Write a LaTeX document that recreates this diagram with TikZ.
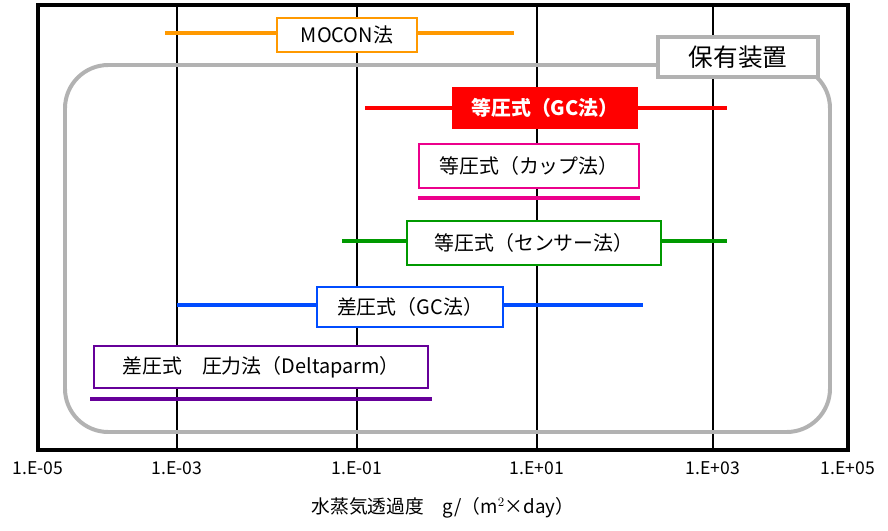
\documentclass[tikz,border=0pt]{standalone}
\usepackage{fontspec}
\setmainfont{Noto Sans CJK JP}
\usetikzlibrary{positioning}

\begin{document}
\begin{tikzpicture}[
    x=0.03cm, y=-0.03cm,
    span/.style={line width=3.4pt},
    tag/.style={draw, fill=white, line width=1.7pt, minimum height=1.2cm, font=\fontsize{17}{20}\selectfont, inner xsep=4pt},
    tick/.style={font=\fontsize{15}{18}\selectfont}
]
\useasboundingbox (0,0) rectangle (888,531);

% plot frame and decades
\draw[line width=1.5pt] (177,5) -- (177,450) (357,5) -- (357,450) (537,5) -- (537,450) (713,5) -- (713,450);
\draw[line width=4pt] (38,5) rectangle (848,450);
\foreach \x/\t in {38/1.E-05,177/1.E-03,357/1.E-01,537/1.E+01,713/1.E+03,848/1.E+05}
  \node[tick] at (\x,468) {\t};
\node[font=\fontsize{16}{19}\selectfont] (xlabel) at (443,508) {水蒸気透過度\quad g/（m$^{2}$×day）};

% owned equipment
\draw[gray!60, line width=3.4pt, rounded corners=1.3cm] (65,65) rectangle (830,432);
\node[tag, draw=gray!60, line width=3pt, minimum width=4.8cm, font=\fontsize{21}{24}\selectfont] (owned) at (738,57) {保有装置};

% MOCON
\draw[span, orange!80!yellow] (165,33) -- (514,33);
\node[tag, draw=orange!80!yellow, minimum width=4.2cm, minimum height=1cm] (mocon) at (347,35) {MOCON法};

% isobaric GC
\draw[span, red] (365,108) -- (727,108);
\node[tag, draw=red, fill=red, text=white, font=\fontsize{17}{20}\selectfont\bfseries, minimum width=5.5cm] (isogc) at (545,108) {等圧式（GC法）};

% isobaric cup
\node[tag, draw=magenta, minimum width=6.6cm, minimum height=1.3cm] (cup) at (529,166) {等圧式（カップ法）};
\draw[span, magenta] (418,198) -- (640,198);

% isobaric sensor
\draw[span, green!60!black] (342,241) -- (727,241);
\node[tag, draw=green!60!black, minimum width=7.6cm, minimum height=1.3cm] (sensor) at (534,243) {等圧式（センサー法）};

% differential GC
\draw[span, blue!70!cyan] (177,305) -- (643,305);
\node[tag, draw=blue!70!cyan, minimum width=5.6cm] (diffgc) at (410,307) {差圧式（GC法）};

% differential pressure
\node[tag, draw=violet!80!blue, minimum width=10cm, minimum height=1.25cm] (deltap) at (261,367) {差圧式\quad 圧力法（Deltaparm）};
\draw[span, violet!80!blue] (90,399) -- (432,399);

\end{tikzpicture}
\end{document}
